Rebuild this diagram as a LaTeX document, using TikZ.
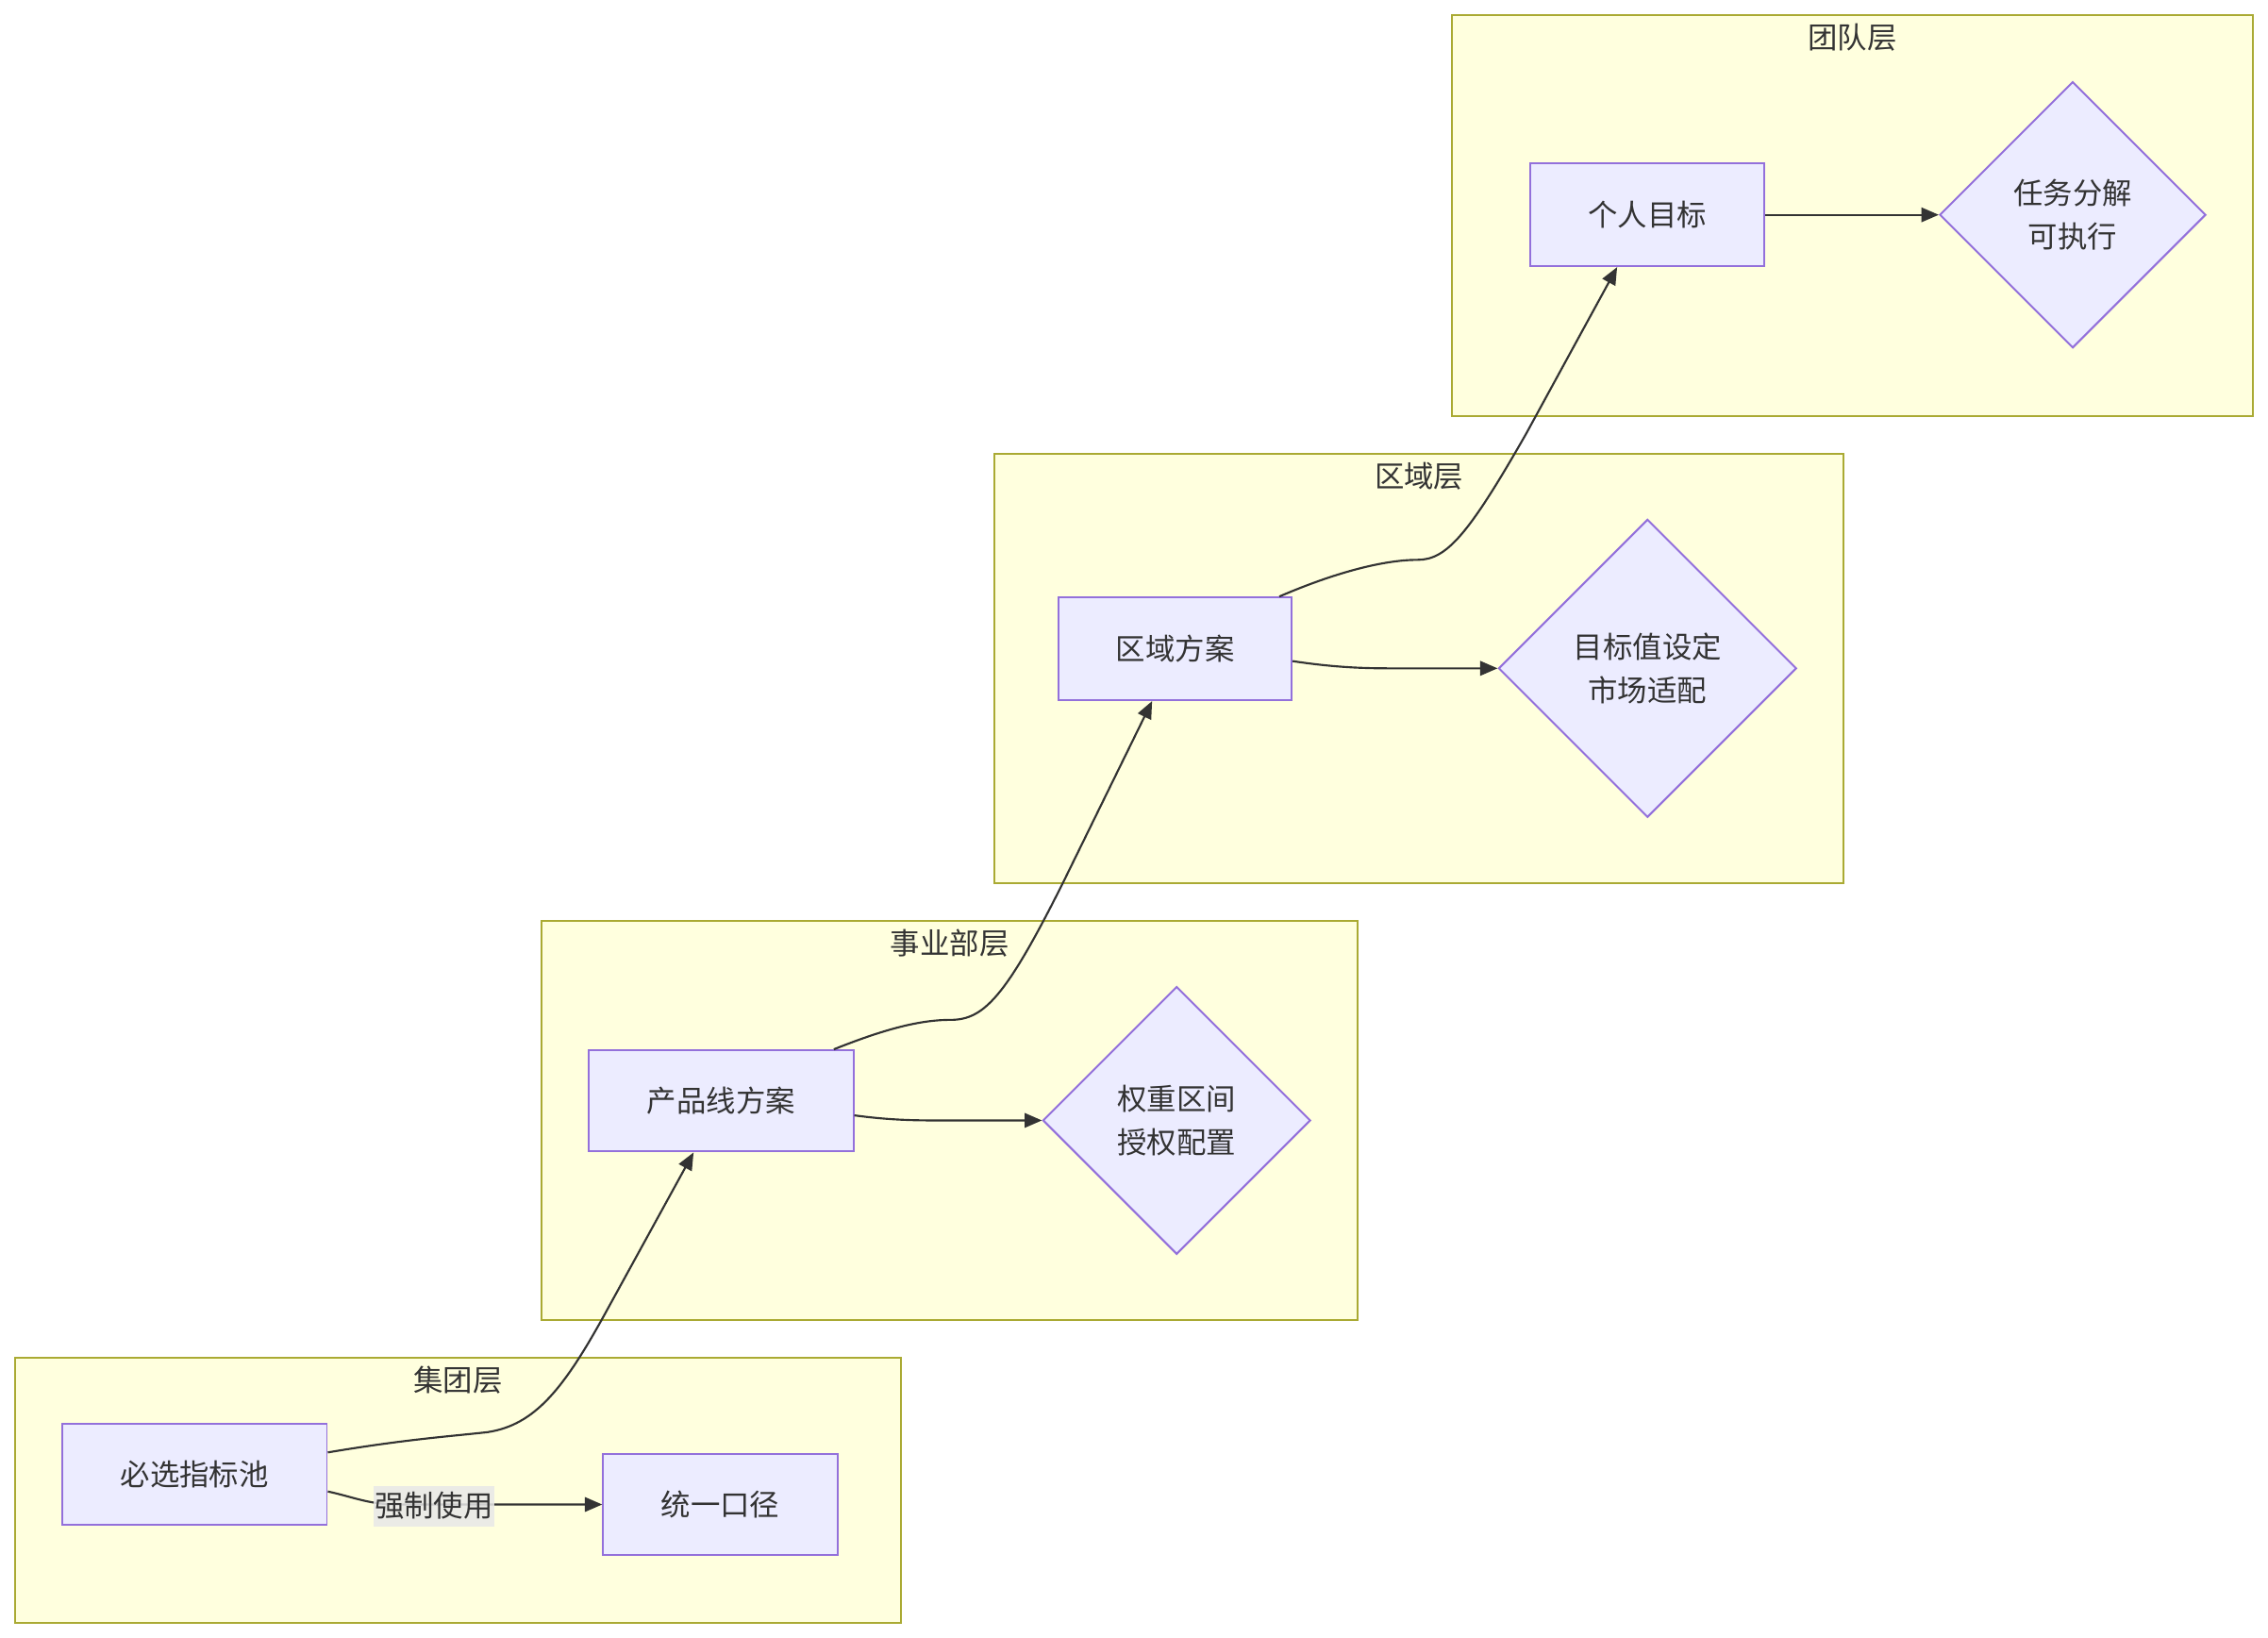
\documentclass[tikz,border=0pt]{standalone}
\usepackage{fontspec}
\setmainfont{Noto Sans CJK SC}
\usetikzlibrary{shapes.geometric,arrows.meta,calc}
\definecolor{clfill}{HTML}{FFFFDE}
\definecolor{cldraw}{HTML}{AAAA33}
\definecolor{ndfill}{HTML}{ECECFF}
\definecolor{nddraw}{HTML}{9370DB}
\definecolor{txt}{HTML}{333333}
\definecolor{lblbg}{HTML}{E8E8E8}
\tikzset{
  cluster/.style={draw=cldraw, fill=clfill, line width=1.3pt, anchor=north west, inner sep=0pt},
  ctitle/.style={text=txt, font=\fontsize{20.5}{30}\selectfont, inner sep=0pt},
  box/.style={draw=nddraw, fill=ndfill, line width=1.3pt, text=txt, font=\fontsize{20.5}{30}\selectfont, inner sep=0pt},
  dia/.style={diamond, draw=nddraw, fill=ndfill, line width=1.3pt, text=txt, align=center, font=\fontsize{20.5}{30}\selectfont, inner sep=0pt},
  edge/.style={draw=txt, line width=1.4pt, -{Triangle[length=12pt,width=10pt]}},
  elabel/.style={fill=lblbg, fill opacity=0.85, text opacity=1, text=txt, font=\fontsize{20.5}{30}\selectfont, inner xsep=1pt, inner ysep=0pt, minimum height=28pt}
}
\begin{document}
\begin{tikzpicture}[x=1pt,y=-1pt]
\useasboundingbox (0,0) rectangle (1568,1132);
\fill[white] (0,0) rectangle (1568,1132);
% clusters
\node[cluster, minimum width=554pt, minimum height=277pt] (c4) at (1003,10) {};
\node[cluster, minimum width=587pt, minimum height=297pt] (c3) at (687,313) {};
\node[cluster, minimum width=564pt, minimum height=276pt] (c2) at (374,636) {};
\node[cluster, minimum width=612pt, minimum height=183pt] (c1) at (10,938) {};
\node[ctitle] (t4) at ($(c4.north)+(0,16)$) {团队层};
\node[ctitle] (t3) at ($(c3.north)+(0,16)$) {区域层};
\node[ctitle] (t2) at ($(c2.north)+(0,16)$) {事业部层};
\node[ctitle] (t1) at ($(c1.north)+(0,16)$) {集团层};
% nodes
\node[box, minimum width=162pt, minimum height=71pt] (p) at (1139,148.5) {个人目标};
\node[dia, minimum width=184pt, minimum height=184pt] (d4) at (1433,148.5) {任务分解\\可执行};
\node[box, minimum width=161pt, minimum height=71pt] (r) at (812.5,448.5) {区域方案};
\node[dia, minimum width=206pt, minimum height=206pt] (d3) at (1139,462) {目标值设定\\市场适配};
\node[box, minimum width=183pt, minimum height=70pt] (pl) at (498.5,761) {产品线方案};
\node[dia, minimum width=185pt, minimum height=185pt] (d2) at (813.5,774.5) {权重区间\\授权配置};
\node[box, minimum width=183pt, minimum height=70pt] (m) at (134.5,1019) {必选指标池};
\node[box, minimum width=162pt, minimum height=70pt] (u) at (498,1040) {统一口径};
% edges
\draw[edge] ([yshift=15pt]m.east) .. controls (280,995) and (310,993) .. (337,990)
   .. controls (370,985) and (390,960) .. (420,905) -- ([xshift=-19pt]pl.south);
\draw[edge] ([xshift=78pt]pl.north) .. controls (610,712) and (635,705) .. (657,705)
   .. controls (680,705) and (695,690) .. (735,610) -- ([xshift=-16pt]r.south);
\draw[edge] ([xshift=72pt]r.north) .. controls (920,397) and (955,387) .. (980,387)
   .. controls (1000,387) and (1015,370) .. (1055,300) -- ([xshift=-21pt]p.south);
\draw[edge] ([yshift=-10pt]pl.east) .. controls (620,775) and (640,774.5) .. (660,774.5) -- (d2.west);
\draw[edge] ([yshift=-8.5pt]r.east) .. controls (920,461) and (940,462) .. (960,462) -- (d3.west);
\draw[edge] (p.east) -- (d4.west);
\draw[edge] ([yshift=-12pt]m.east) .. controls (245,1035) and (255,1040) .. (275,1040) -- (u.west);
\node[elabel] (l1) at (300,1041) {强制使用};
\end{tikzpicture}
\end{document}
